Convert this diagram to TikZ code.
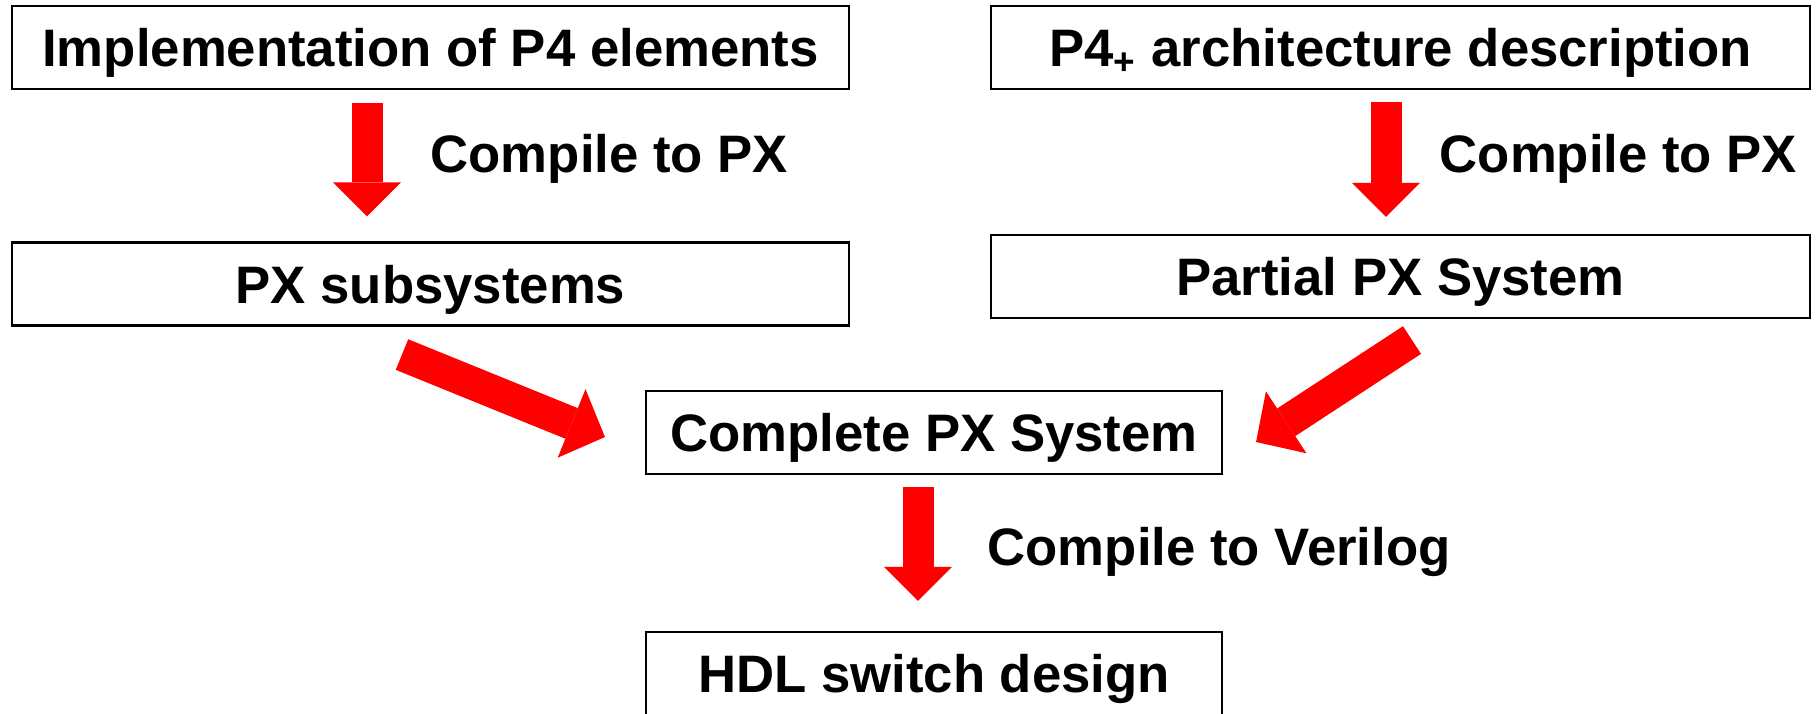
\documentclass[tikz,border=0pt]{standalone}
\usepackage{fontspec}
\setmainfont{Liberation Sans}
\usetikzlibrary{arrows.meta, positioning, calc}
\definecolor{flowred}{RGB}{255,0,0}

\begin{document}
\begin{tikzpicture}[
    stage/.style={rectangle, draw=black, line width=0.6pt, inner sep=0pt, minimum height=0.83cm, text height=0.38cm, text depth=0cm},
    wide/.style={stage, minimum width=8.37cm},
    narrow/.style={stage, minimum width=5.76cm},
    flowdown/.style={draw=flowred, line width=0.31cm, -{Triangle[length=0.34cm, width=0.68cm, line width=0pt, fill=flowred]}},
    flowslant/.style={draw=flowred, line width=0.33cm, -{Triangle[length=0.36cm, width=0.74cm, line width=0pt, fill=flowred]}},
    step label/.style={anchor=base west, inner sep=0pt},
    font=\fontsize{15}{18}\selectfont\bfseries
]
    \useasboundingbox (0,0) rectangle (18.16,-7.13);

    % Boxes
    \node[wide] (impl) at (4.305,-0.475) {Implementation of P4 elements};
    \node[wide, minimum width=8.19cm] (arch) at (14.005,-0.475) {P4\textsubscript{+} architecture description};
    \node[wide] (pxsub) at (4.305,-2.84) {PX subsystems};
    \node[wide, minimum width=8.19cm] (partial) at (14.005,-2.765) {Partial PX System};
    \node[narrow] (complete) at (9.34,-4.325) {Complete PX System};
    \node[narrow] (hdl) at (9.34,-6.735) {HDL switch design};

    % Arrows
    \draw[flowdown, shorten <=0.13cm, shorten >=0.25cm] ([xshift=-0.635cm]impl.south) -- ([xshift=-0.635cm]pxsub.north);
    \draw[flowdown, shorten <=0.12cm, shorten >=0.17cm] ([xshift=-0.145cm]arch.south) -- ([xshift=-0.145cm]partial.north);
    \draw[flowslant] ([shift={(-0.285,-0.28)}]pxsub.south) -- ([shift={(-0.40,-0.045)}]complete.west);
    \draw[flowslant] ([shift={(0.115,-0.21)}]partial.south) -- ([shift={(0.33,-0.095)}]complete.east);
    \draw[flowdown, shorten <=0.12cm, shorten >=0.30cm] ([xshift=-0.16cm]complete.south) -- ([xshift=-0.16cm]hdl.north);

    % Labels
    \node[step label] (c1) at (4.30,-1.72) {Compile to PX};
    \node[step label] (c2) at (14.39,-1.72) {Compile to PX};
    \node[step label] (c3) at (9.87,-5.65) {Compile to Verilog};

\end{tikzpicture}
\end{document}
